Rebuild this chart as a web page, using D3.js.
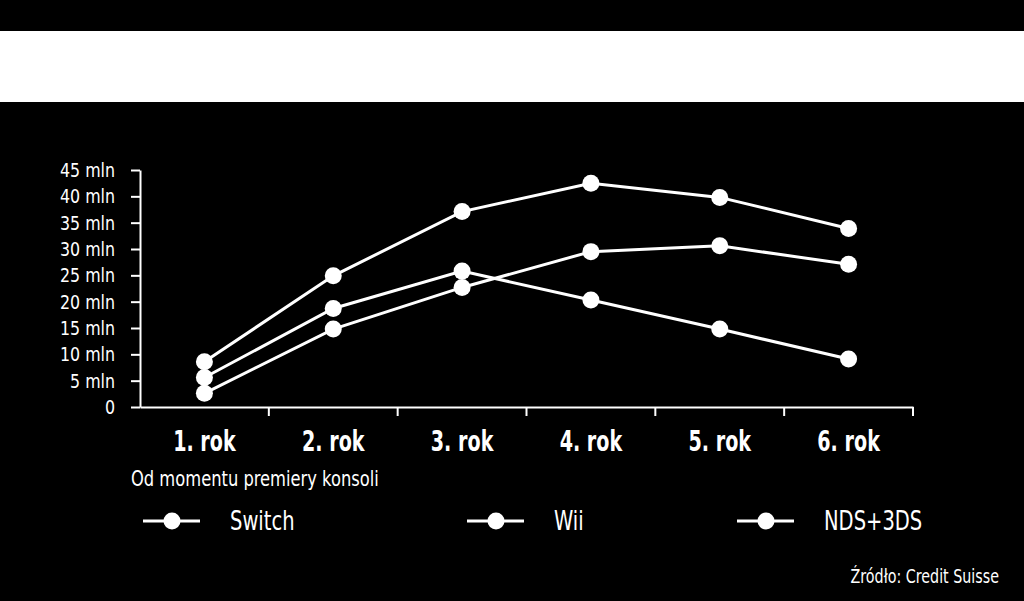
<!DOCTYPE html>
<html>
<head>
<meta charset="utf-8">
<script src="https://cdn.jsdelivr.net/npm/d3@7"></script>
<style>
  html, body { margin: 0; padding: 0; background: #000; }
  svg { display: block; }
  text { font-family: "Liberation Sans Narrow", "Arial Narrow", "DejaVu Sans Condensed", sans-serif; fill: #fff; }
</style>
</head>
<body>
<div id="chart"></div>
<script>
// years since console launch
const categories = ["1. rok", "2. rok", "3. rok", "4. rok", "5. rok", "6. rok"];

// sales in millions
const switchSales = [2.6, 14.8, 22.7, 29.5, 30.6, 27.1];
const wiiSales = [5.6, 18.7, 25.8, 20.3, 14.8, 9.1];
const ndsSales = [8.6, 24.9, 37.1, 42.5, 39.8, 33.9];

const seriesNames = ["Switch", "Wii", "NDS+3DS"];
const yTicks = [0, 5, 10, 15, 20, 25, 30, 35, 40, 45];
const yTickLabels = ["0", "5 mln", "10 mln", "15 mln", "20 mln", "25 mln", "30 mln", "35 mln", "40 mln", "45 mln"];

const subtitle = "Od momentu premiery konsoli";
const source = "Źródło: Credit Suisse";

const width = 1024;
const height = 601;
const fontStack = "'Liberation Sans Narrow', 'Arial Narrow', 'DejaVu Sans Condensed', sans-serif";

let svg = d3.select("#chart")
	.append("svg")
	.attr("width", width)
	.attr("height", height);

// black page, white title band
svg.append("rect").attr("width", width).attr("height", height).attr("fill", "#000");
svg.append("rect").attr("x", 0).attr("y", 31).attr("width", width).attr("height", 71).attr("fill", "#fff");

// the original uses a very narrow font, squeeze the fallback horizontally
function placeText(sel, px, py, sx) {
	sel.attr("transform", "translate(" + px + "," + py + ") scale(" + sx + ",1)");
}

let x = d3.scaleBand()
	.domain(categories)
	.range([140, 913]);

let y = d3.scaleLinear()
	.domain([0, 45])
	.range([407, 170]);

// y axis
const ySqueeze = 0.88;
let yAxis = svg.append("g")
	.attr("transform", "translate(140,0)")
	.call(d3.axisLeft(y)
		.tickValues(yTicks)
		.tickFormat((d, i) => yTickLabels[i])
		.tickSize(9)
		.tickPadding(16)
		.tickSizeOuter(0));
yAxis.select(".domain").attr("stroke", "#fff").attr("stroke-width", 2);
yAxis.selectAll(".tick line").attr("stroke", "#fff").attr("stroke-width", 2);
yAxis.selectAll(".tick text")
	.attr("fill", "#fff")
	.attr("x", -25 / ySqueeze)
	.attr("transform", "scale(" + ySqueeze + ",1)")
	.style("font-size", "20px")
	.style("font-family", fontStack);

// x axis: labels centred in bands, ticks on band boundaries
let xAxis = svg.append("g")
	.attr("transform", "translate(0,407)")
	.call(d3.axisBottom(x).tickSize(0).tickPadding(24).tickSizeOuter(0));
xAxis.select(".domain").attr("stroke", "#fff").attr("stroke-width", 2);
xAxis.selectAll(".tick text")
	.attr("fill", "#fff")
	.attr("transform", "scale(0.76,1)")
	.style("font-size", "28px")
	.style("font-weight", "bold")
	.style("font-family", fontStack);

svg.append("g")
	.selectAll("line")
	.data(categories)
	.enter().append("line")
	.attr("x1", d => x(d) + x.bandwidth())
	.attr("x2", d => x(d) + x.bandwidth())
	.attr("y1", 407)
	.attr("y2", 416)
	.attr("stroke", "#fff")
	.attr("stroke-width", 2);

// lines and markers
let allSeries = [switchSales, wiiSales, ndsSales];
let line = d3.line()
	.x((d, i) => x(categories[i]) + x.bandwidth() / 2)
	.y(d => y(d));

let groups = svg.append("g")
	.selectAll("g")
	.data(allSeries)
	.enter().append("g");

groups.append("path")
	.attr("d", d => line(d))
	.attr("fill", "none")
	.attr("stroke", "#fff")
	.attr("stroke-width", 3);

groups.selectAll("circle")
	.data(d => d)
	.enter().append("circle")
	.attr("cx", (d, i) => x(categories[i]) + x.bandwidth() / 2)
	.attr("cy", d => y(d))
	.attr("r", 8.5)
	.attr("fill", "#fff");

// subtitle under the axis
svg.append("text")
	.style("font-size", "21px")
	.text(subtitle)
	.call(placeText, 131, 486, 0.864);

// legend
const legendX = [143, 467, 737];
let legend = svg.append("g")
	.selectAll("g")
	.data(seriesNames)
	.enter().append("g")
	.attr("transform", (d, i) => "translate(" + legendX[i] + ",521)");

legend.append("line")
	.attr("x1", 0).attr("x2", 57)
	.attr("y1", 0).attr("y2", 0)
	.attr("stroke", "#fff")
	.attr("stroke-width", 3);
legend.append("circle")
	.attr("cx", 29).attr("cy", 0).attr("r", 8.5)
	.attr("fill", "#fff");
legend.append("text")
	.style("font-size", "26px")
	.text(d => d)
	.call(placeText, 87, 9, 0.835);

// source
svg.append("text")
	.attr("text-anchor", "end")
	.style("font-size", "19px")
	.text(source)
	.call(placeText, 999, 583, 0.836);
</script>
</body>
</html>
